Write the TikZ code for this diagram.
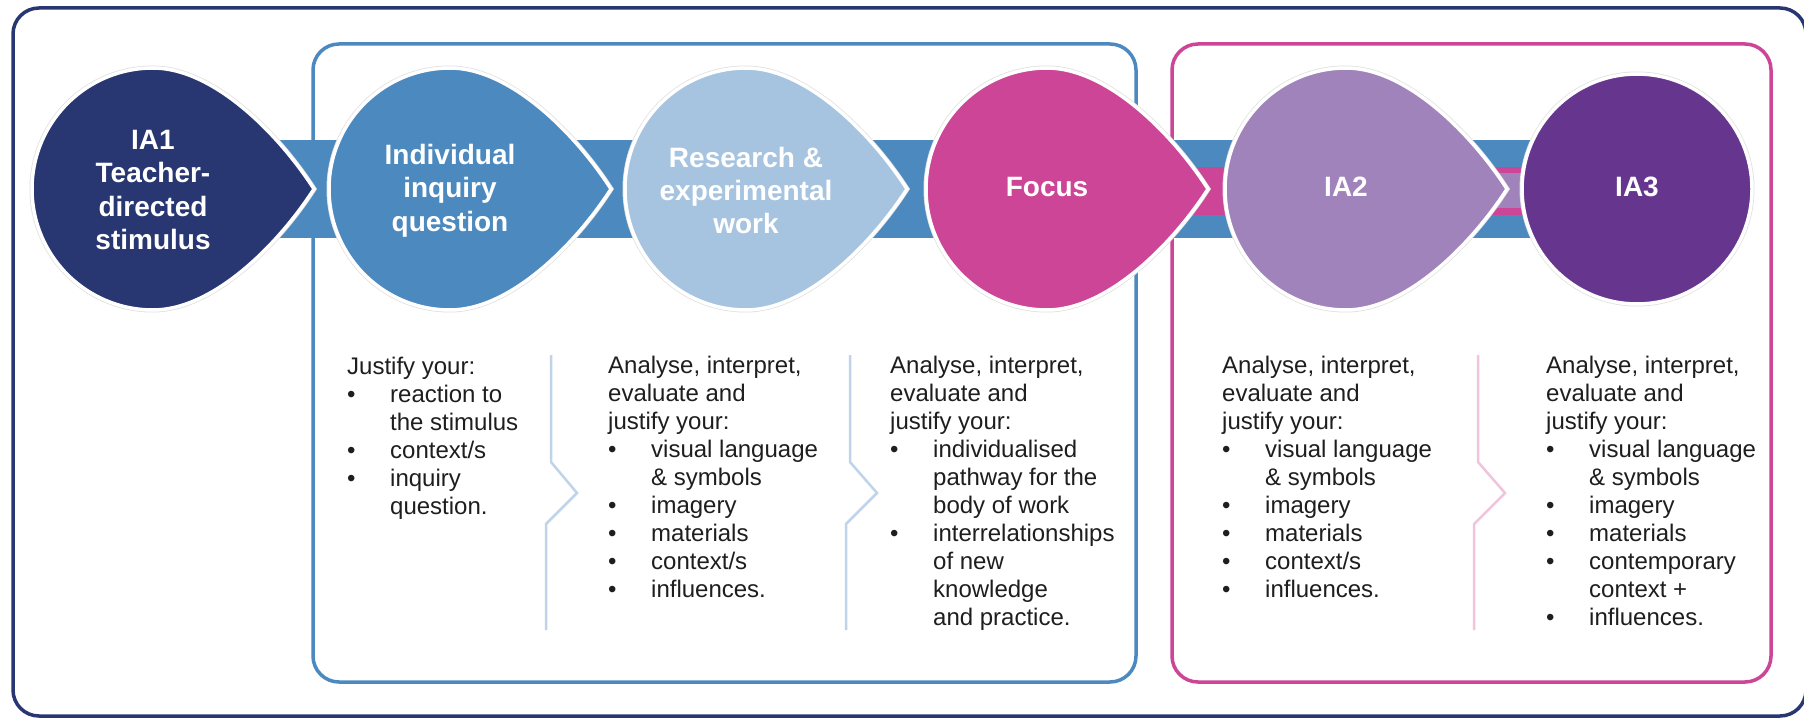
\documentclass[tikz,border=0pt]{standalone}
\usepackage{fontspec}
\setmainfont{Liberation Sans}
\definecolor{navyc}{HTML}{283672}
\definecolor{bluec}{HTML}{4B89BF}
\definecolor{researchc}{HTML}{A6C4E0}
\definecolor{focusc}{HTML}{CC4596}
\definecolor{iatwoc}{HTML}{A183BB}
\definecolor{iathreec}{HTML}{66368F}
\definecolor{sepblue}{HTML}{BFD4EA}
\definecolor{seppink}{HTML}{F0C4DC}
\definecolor{bodyc}{HTML}{1E1E1E}
\newcommand{\bitem}{\makebox[43pt][l]{\textbullet}}
\newcommand{\bcont}{\hspace*{43pt}}
\newcommand{\droppath}[1]{(#1+161,189) .. controls (#1+125,133) and (#1+60,68) .. (#1,68) arc[start angle=-90, end angle=-270, radius=121] .. controls (#1+60,310) and (#1+125,245) .. cycle}
\tikzset{
  framebox/.style={line width=3.5pt, rounded corners=26pt},
  dropshadow/.style={draw=black!12, line width=5pt},
  dropedge/.style={draw=white, line width=3.5pt},
  droptext/.style={text=white, align=center, inner sep=0pt, font=\fontsize{28}{33.3}\selectfont\bfseries},
  bodytext/.style={text=bodyc, anchor=base west, inner sep=0pt, font=\fontsize{24}{28}\selectfont},
  sepline/.style={line width=2.5pt, line join=miter}
}
\begin{document}
\begin{tikzpicture}[x=1pt,y=-1pt]
\useasboundingbox (0,0) rectangle (1804,719);
\fill[white] (0,0) rectangle (1804,719);
% outer frame
\draw[framebox, navyc] (13,8) rectangle (1806,716);
% group boxes
\draw[framebox, bluec] (313,44) rectangle (1136,682);
\draw[framebox, focusc] (1172,44) rectangle (1771,682);
% bands
\fill[bluec] (153,140) rectangle (1637,238);
\fill[focusc] (1047,167) rectangle (1637,215);
\fill[iatwoc] (1346,173) rectangle (1637,208);
% drops
\foreach \cx/\col in {153/navyc, 450/bluec, 746/researchc, 1047/focusc, 1346/iatwoc}{
  \path[dropshadow] \droppath{\cx};
  \path[fill=\col] \droppath{\cx};
  \path[dropedge] \droppath{\cx};
}
\draw[black!12, line width=5pt] (1637,189) circle[radius=115];
\draw[white, line width=3.5pt, fill=iathreec] (1637,189) circle[radius=115];
% drop texts
\node[droptext] (ia1) at (153,190) {IA1\\Teacher-\\directed\\stimulus};
\node[droptext] (iiq) at (450,190.5) {Individual\\inquiry\\question};
\node[droptext] (rew) at (746,190.5) {Research \&\\experimental\\work};
\node[droptext] (foc) at (1047,187) {Focus};
\node[droptext] (ia2) at (1346,187) {IA2};
\node[droptext] (ia3) at (1637,187) {IA3};
% separators
\draw[sepline, sepblue] (551,355) -- (551,462) -- (577,493) -- (546,524) -- (546,630);
\draw[sepline, sepblue] (850,355) -- (850,462) -- (877,493) -- (846,524) -- (846,630);
\draw[sepline, seppink] (1478,355) -- (1478,462) -- (1505,493) -- (1474,524) -- (1474,630);
% body texts
\node[bodytext] (c1) at (347,374) {\parbox[t]{200pt}{Justify your:\\
\bitem reaction to\\
\bcont the stimulus\\
\bitem context/s\\
\bitem inquiry\\
\bcont question.}};
\node[bodytext] (c2) at (608,373) {\parbox[t]{240pt}{Analyse, interpret,\\
evaluate and\\
justify your:\\
\bitem visual language\\
\bcont \& symbols\\
\bitem imagery\\
\bitem materials\\
\bitem context/s\\
\bitem influences.}};
\node[bodytext] (c3) at (890,373) {\parbox[t]{260pt}{Analyse, interpret,\\
evaluate and\\
justify your:\\
\bitem individualised\\
\bcont pathway for the\\
\bcont body of work\\
\bitem interrelationships\\
\bcont of new\\
\bcont knowledge\\
\bcont and practice.}};
\node[bodytext] (c4) at (1222,373) {\parbox[t]{240pt}{Analyse, interpret,\\
evaluate and\\
justify your:\\
\bitem visual language\\
\bcont \& symbols\\
\bitem imagery\\
\bitem materials\\
\bitem context/s\\
\bitem influences.}};
\node[bodytext] (c5) at (1546,373) {\parbox[t]{240pt}{Analyse, interpret,\\
evaluate and\\
justify your:\\
\bitem visual language\\
\bcont \& symbols\\
\bitem imagery\\
\bitem materials\\
\bitem contemporary\\
\bcont context +\\
\bitem influences.}};
\end{tikzpicture}
\end{document}
